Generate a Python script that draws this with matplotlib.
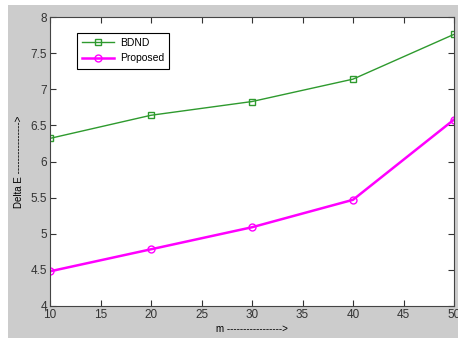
import matplotlib
matplotlib.use('Agg')
import matplotlib.pyplot as plt
from matplotlib.patches import Rectangle

plt.rcParams['font.family'] = ['Liberation Sans', 'DejaVu Sans']

# data
m_values = [10, 20, 30, 40, 50]
bdnd = [6.32, 6.64, 6.83, 7.14, 7.76]
proposed = [4.48, 4.785, 5.09, 5.47, 6.58]
x_ticks = [10, 15, 20, 25, 30, 35, 40, 45, 50]
y_ticks = [4, 4.5, 5, 5.5, 6, 6.5, 7, 7.5, 8]

fig = plt.figure(figsize=(4.58, 3.38), dpi=100, facecolor='white')
# grey matlab-style figure background, with a thin white strip left/top
fig.patches.append(Rectangle((8 / 458, 0), 1, 1 - 5 / 338, transform=fig.transFigure,
                             facecolor='#cccccc', edgecolor='none', zorder=-1))

ax = fig.add_axes([50 / 458, 1 - 306 / 338, 404 / 458, 289 / 338])
ax.plot(m_values, bdnd, color='#2e9a2e', marker='s', markersize=5, mfc='none',
        mew=1.0, lw=1.0, label='BDND')
ax.plot(m_values, proposed, color='#ff00ff', marker='o', markersize=5, mfc='none',
        mew=1.0, lw=1.8, label='Proposed')

ax.set_xlim(10, 50)
ax.set_ylim(4, 8)
ax.set_xticks(x_ticks)
ax.set_yticks(y_ticks)
ax.set_xticklabels([str(t) for t in x_ticks])
ax.set_yticklabels(['4', '4.5', '5', '5.5', '6', '6.5', '7', '7.5', '8'])
ax.tick_params(direction='in', top=True, right=True, labelsize=8.5, length=4,
               width=0.8, colors='#333333', pad=2)
for s in ax.spines.values():
    s.set_color('#444444')
    s.set_linewidth(0.8)

ax.set_xlabel('m -----------------' + '>', fontsize=7, labelpad=2)
ax.set_ylabel('Delta E ----------------' + '>', fontsize=7, labelpad=5)

leg = ax.legend(loc='upper left', bbox_to_anchor=(0.067, 0.945), fontsize=7.5,
                fancybox=False, edgecolor='black', framealpha=1, borderpad=0.5,
                borderaxespad=0, handlelength=3.0, handletextpad=0.6,
                labelspacing=0.5)
leg.get_frame().set_linewidth(0.8)

fig.savefig('out.png', dpi=100, facecolor=fig.get_facecolor())
